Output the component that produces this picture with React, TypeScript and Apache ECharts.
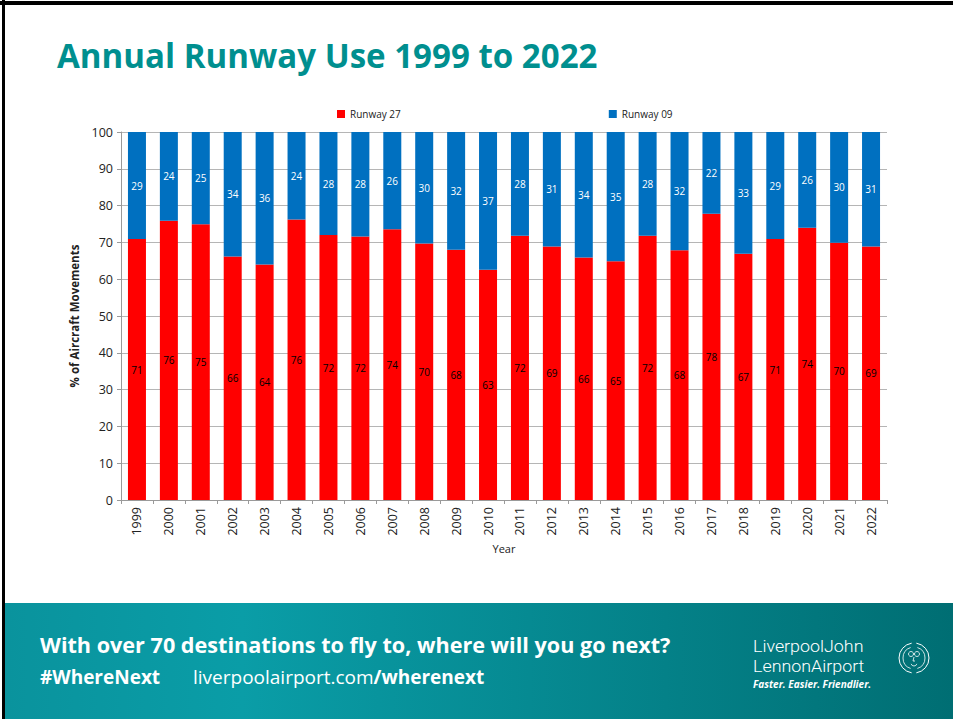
import React, { useEffect, useRef } from "react";
import * as echarts from "echarts";

const years = ["1999","2000","2001","2002","2003","2004","2005","2006","2007","2008","2009","2010","2011","2012","2013","2014","2015","2016","2017","2018","2019","2020","2021","2022"];
const runway27 = [70.9, 75.9, 74.9, 66.2, 64.0, 76.2, 72.0, 71.6, 73.6, 69.7, 68.0, 62.6, 71.8, 68.9, 65.9, 64.9, 71.8, 67.9, 77.8, 66.9, 70.9, 74.0, 69.9, 68.9];
const runway09 = [29.1, 24.1, 25.1, 33.8, 36.0, 23.8, 28.0, 28.4, 26.4, 30.3, 32.0, 37.4, 28.2, 31.1, 34.1, 35.1, 28.2, 32.1, 22.2, 33.1, 29.1, 26.0, 30.1, 31.1];
const yTicks = { min: 0, max: 100, interval: 10 };

const TITLE = "Annual Runway Use 1999 to 2022";
const FOOT1 = "With over 70 destinations to fly to, where will you go next?";

export default function App() {
  const ref = useRef<HTMLDivElement>(null);
  useEffect(() => {
    const chart = echarts.init(ref.current!, null, { renderer: "svg" });
    const axisFont = "Open Sans";
    chart.setOption({
      animation: false,
      backgroundColor: "#ffffff",
      legend: {
        top: 104,
        left: 332,
        itemWidth: 8,
        itemHeight: 8,
        itemGap: 208,
        icon: "rect",
        textStyle: { fontFamily: axisFont, fontSize: 10, color: "#222" },
        data: ["Runway 27", "Runway 09"],
      },
      grid: { left: 121, right: 66, top: 132, bottom: 219, containLabel: false },
      xAxis: {
        type: "category",
        data: years,
        name: "Year",
        nameLocation: "middle",
        nameGap: 43,
        nameTextStyle: { fontFamily: axisFont, fontSize: 11, color: "#222" },
        axisLine: { lineStyle: { color: "#9a9a9a" } },
        axisTick: { show: true, length: 4, lineStyle: { color: "#9a9a9a" } },
        axisLabel: { rotate: 90, fontFamily: axisFont, fontSize: 12.5, color: "#222", margin: 7 },
      },
      yAxis: {
        type: "value",
        min: yTicks.min,
        max: yTicks.max,
        interval: yTicks.interval,
        name: "% of Aircraft Movements",
        nameLocation: "middle",
        nameGap: 38,
        nameTextStyle: { fontFamily: axisFont, fontSize: 11.5, fontWeight: "bold", color: "#222" },
        axisLine: { show: true, lineStyle: { color: "#9a9a9a" } },
        axisTick: { show: true, length: 4, lineStyle: { color: "#9a9a9a" } },
        axisLabel: { fontFamily: axisFont, fontSize: 12.5, color: "#222", margin: 8 },
        splitLine: { lineStyle: { color: "#b5b5b5" } },
      },
      series: [
        {
          name: "Runway 27",
          type: "bar",
          stack: "all",
          data: runway27,
          barWidth: 18,
          itemStyle: { color: "#ff0000" },
          label: {
            show: true,
            position: "inside",
            fontFamily: axisFont,
            fontSize: 10,
            color: "#000",
            formatter: (p: any) => String(Math.round(p.value)),
          },
        },
        {
          name: "Runway 09",
          type: "bar",
          stack: "all",
          data: runway09,
          barWidth: 18,
          itemStyle: { color: "#0070c0" },
          label: {
            show: true,
            position: "inside",
            fontFamily: axisFont,
            fontSize: 10,
            color: "#ffffff",
            formatter: (p: any) => String(Math.round(p.value)),
          },
        },
      ],
      graphic: [
        { type: "rect", shape: { x: 0, y: 1, width: 953, height: 4 }, style: { fill: "#000" }, silent: true },
        { type: "rect", shape: { x: 2, y: 0, width: 3, height: 719 }, style: { fill: "#000" }, silent: true },
        {
          type: "text",
          x: 57,
          y: 38,
          scaleX: 0.973,
          style: { text: TITLE, fontFamily: "Open Sans", fontWeight: "bold", fontSize: 34, fill: "#008f8f" },
        },
        {
          type: "rect",
          shape: { x: 5, y: 603, width: 948, height: 116 },
          style: {
            fill: new echarts.graphic.LinearGradient(0, 0, 1, 0, [
              { offset: 0, color: "#0a939d" },
              { offset: 0.25, color: "#0a9da7" },
              { offset: 1, color: "#006e73" },
            ]),
          },
          silent: true,
        },
        {
          type: "text",
          x: 40,
          y: 634,
          scaleX: 1.03,
          style: { text: FOOT1, fontFamily: "Open Sans", fontWeight: "bold", fontSize: 21, fill: "#fff" },
        },
        {
          type: "text",
          x: 40,
          y: 667,
          scaleX: 1.0,
          style: { text: "#WhereNext", fontFamily: "Open Sans", fontWeight: "bold", fontSize: 19, fill: "#fff" },
        },
        {
          type: "text",
          x: 193,
          y: 667,
          scaleX: 1.0,
          style: {
            text: "{a|liverpoolairport.com}{b|/wherenext}",
            fill: "#fff",
            rich: {
              a: { fontFamily: "Open Sans", fontSize: 19, fill: "#fff", fontWeight: "normal" },
              b: { fontFamily: "Open Sans", fontSize: 19, fill: "#fff", fontWeight: "bold" },
            },
          },
        },
        {
          type: "text",
          x: 753,
          y: 638,
          scaleX: 1.05,
          style: { text: "LiverpoolJohn", fontFamily: "Roboto", fontWeight: 300, fontSize: 17, fill: "#fff" },
        },
        {
          type: "text",
          x: 753,
          y: 658,
          scaleX: 1.05,
          style: { text: "LennonAirport", fontFamily: "Roboto", fontWeight: 300, fontSize: 17, fill: "#fff" },
        },
        {
          type: "text",
          x: 753,
          y: 679,
          style: { text: "Faster. Easier. Friendlier.", fontFamily: "Open Sans", fontWeight: "bold", fontStyle: "italic", fontSize: 10, fill: "#fff" },
        },
        {
          type: "group",
          x: 914,
          y: 658,
          children: [
            { type: "arc", shape: { cx: 0, cy: 0, r: 15, startAngle: Math.PI * 0.55, endAngle: Math.PI * 1.45 }, style: { stroke: "#fff", lineWidth: 1, fill: "none" } },
            { type: "arc", shape: { cx: 0, cy: 0, r: 15, startAngle: -Math.PI * 0.45, endAngle: Math.PI * 0.45 }, style: { stroke: "#fff", lineWidth: 1, fill: "none" } },
            { type: "arc", shape: { cx: 0, cy: 0, r: 11, startAngle: Math.PI * 0.6, endAngle: Math.PI * 1.4 }, style: { stroke: "#fff", lineWidth: 0.8, fill: "none" } },
            { type: "arc", shape: { cx: 0, cy: 0, r: 11, startAngle: -Math.PI * 0.4, endAngle: Math.PI * 0.4 }, style: { stroke: "#fff", lineWidth: 0.8, fill: "none" } },
            { type: "circle", shape: { cx: -3, cy: -4, r: 2.5 }, style: { stroke: "#fff", lineWidth: 0.8, fill: "none" } },
            { type: "circle", shape: { cx: 3, cy: -4, r: 2.5 }, style: { stroke: "#fff", lineWidth: 0.8, fill: "none" } },
            { type: "line", shape: { x1: -0.5, y1: -4, x2: 0.5, y2: -4 }, style: { stroke: "#fff", lineWidth: 0.8 } },
            { type: "polyline", shape: { points: [[0, -1], [-1, 3], [1, 3]] }, style: { stroke: "#fff", lineWidth: 0.8, fill: "none" } },
            { type: "arc", shape: { cx: 0, cy: 5, r: 3, startAngle: 0.3, endAngle: Math.PI - 0.3 }, style: { stroke: "#fff", lineWidth: 0.8, fill: "none" } },
          ],
        },
      ],
    });
    return () => chart.dispose();
  }, []);
  return (
    <div
      ref={ref}
      style={{ position: "absolute", left: 0, top: 0, width: 953, height: 719 }}
    />
  );
}
